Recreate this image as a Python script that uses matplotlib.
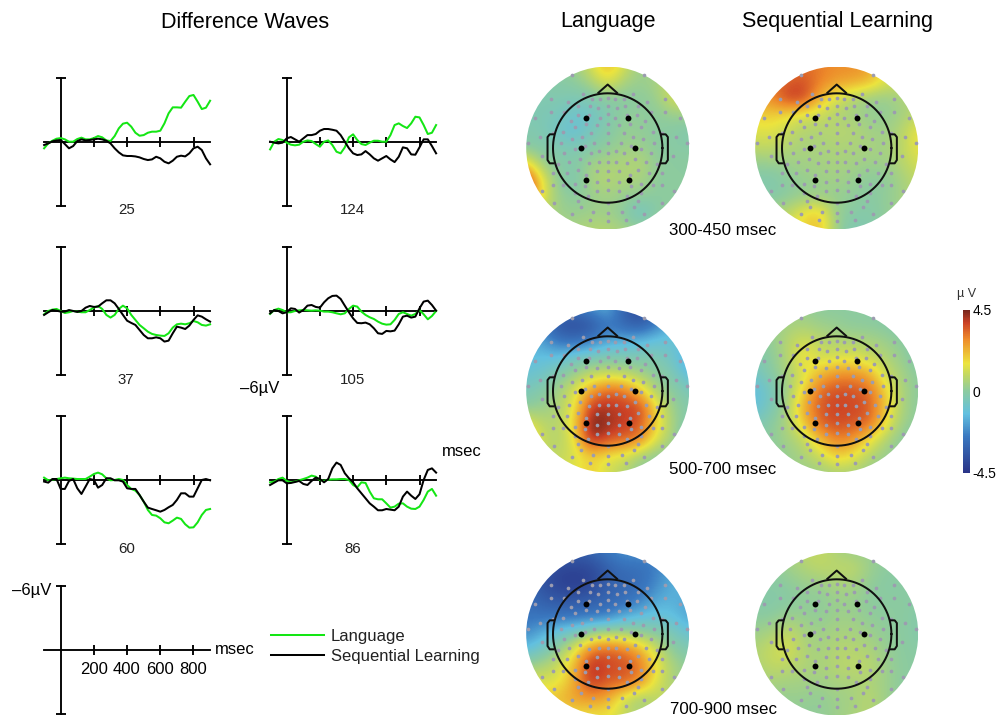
import numpy as np
import matplotlib
matplotlib.use("Agg")
import matplotlib.pyplot as plt
from matplotlib.colors import LinearSegmentedColormap, Normalize
from matplotlib.cm import ScalarMappable
from matplotlib.lines import Line2D
from matplotlib.patches import Circle

plt.rcParams['font.family'] = ['Liberation Sans', 'DejaVu Sans']
W, H = 997, 717
DPI = 100

times = list(range(-100, 901, 25))

lang_25 = [0.62,0.16,-0.09,-0.28,-0.34,-0.22,0,0,-0.25,-0.38,-0.22,-0.22,-0.34,-0.53,-0.41,-0.12,-0.06,-0.53,-1.25,-1.69,-1.78,-1.41,-0.84,-0.56,-0.62,-0.84,-0.94,-0.94,-1.03,-1.72,-2.66,-3.22,-3.22,-3.19,-3.75,-4.28,-4.38,-3.75,-3.06,-3.19,-3.84]
seq_25 = [0.31,0.16,-0.03,-0.12,-0.16,0.22,0.62,0.41,-0.06,-0.22,-0.12,-0.16,-0.22,-0.28,-0.22,-0.09,0.16,0.62,1.0,1.28,1.34,1.34,1.38,1.47,1.62,1.72,1.66,1.41,1.56,1.88,2.03,1.78,1.41,1.31,1.38,1.09,0.62,0.47,0.78,1.56,2.12]
lang_124 = [0.72,0,-0.25,-0.16,0.09,0.28,0.34,0.28,0,-0.12,-0.06,0.22,0.47,0,-0.12,0.31,0.94,1.09,0.53,-0.41,-0.69,-0.16,0.22,0.31,0.09,-0.09,-0.09,0,0,-0.62,-1.56,-1.72,-1.47,-1.28,-1.72,-2.34,-2.28,-1.56,-0.72,-0.84,-1.56]
seq_124 = [0,0.09,0.16,0.09,-0.31,-0.44,-0.22,0,-0.31,-0.62,-0.62,-0.72,-1.03,-1.19,-1.19,-1.12,-1.03,-0.62,0,0.62,1.09,1.25,1.19,0.88,1.19,1.56,1.78,1.56,1.34,1.66,1.91,1.41,0.53,0.62,1.19,1.22,0.53,-0.22,-0.22,0.41,1.09]
lang_37 = [0.28,-0.03,-0.16,-0.22,-0.03,0.16,0.09,-0.03,0.03,0.09,0.09,-0.12,-0.34,-0.5,-0.22,0.34,0.59,0.34,-0.22,-0.53,-0.28,0.34,0.81,1.28,1.59,1.91,2.12,2.22,2.28,2.31,2.06,1.53,1.22,1.16,1.22,1.12,0.91,1.03,1.28,1.34,1.22]
seq_37 = [0.34,0.09,-0.12,-0.06,0.03,0.03,-0.12,-0.03,0.06,-0.03,-0.34,-0.5,-0.41,-0.44,-0.75,-1.03,-1.03,-0.75,-0.22,0.34,0.88,1.09,1.28,1.75,2.22,2.53,2.53,2.44,2.53,2.84,2.75,2.06,1.44,1.53,1.66,1.34,0.81,0.38,0.5,0.75,0.97]
lang_105 = [0.25,-0.12,-0.25,-0.12,0.09,0.09,-0.03,-0.09,-0.12,-0.09,-0.06,-0.09,-0.06,0.03,0.03,0.09,0.19,0.28,0.19,-0.22,-0.53,-0.44,0.03,0.34,0.56,0.72,0.97,1.16,1.25,1.22,0.81,0.25,0.09,0.25,0.41,0.25,-0.12,0.28,0.75,0.44,-0.03]
seq_105 = [0.19,-0.12,-0.03,0.19,0.09,-0.28,-0.22,0.12,-0.12,-0.53,-0.59,-0.41,-0.34,-0.84,-1.22,-1.44,-1.47,-1.16,-0.53,0.09,0.66,1.09,1.12,1.06,1.22,1.59,2.06,2.12,1.84,1.88,1.81,1.22,0.5,0.41,0.59,0.5,-0.28,-0.91,-1.0,-0.59,-0.06]
lang_60 = [-0.25,0,-0.06,-0.12,-0.19,-0.25,-0.19,-0.16,-0.12,-0.12,-0.12,-0.34,-0.59,-0.72,-0.56,-0.19,0,-0.03,-0.12,-0.03,0.44,0.81,0.97,1.38,2.0,2.78,3.25,3.31,3.56,3.94,4.03,3.78,3.5,3.62,4.12,4.44,4.41,3.94,3.25,2.78,2.69]
seq_60 = [0.12,0.22,-0.12,-0.12,0.81,0.81,0.06,-0.12,0.75,1.28,0.59,-0.12,-0.03,0.69,0.44,-0.19,-0.19,0,0,0.12,0.75,0.81,0.81,1.38,2.0,2.56,2.69,2.81,2.94,2.78,2.53,2.31,1.84,1.22,1.22,1.53,1.53,0.75,-0.03,-0.12,0]
lang_86 = [0.19,0.12,-0.12,-0.25,0.06,0.19,0.12,0,-0.12,-0.25,-0.44,-0.34,-0.03,0.06,-0.06,-0.09,-0.09,-0.12,-0.12,-0.03,0.44,0.66,0.19,0.25,1.06,1.69,1.78,1.78,2.16,2.56,2.47,2.19,2.16,2.47,2.66,2.69,2.47,1.84,1.06,0.81,1.44]
seq_86 = [0.44,0.22,0,0,0.28,0.25,0.16,0.06,0.34,0.44,0.06,-0.25,-0.12,0.19,-0.12,-1.12,-1.66,-1.44,-0.66,-0.19,0.19,0.75,1.22,1.69,2.16,2.47,2.81,2.81,2.69,2.75,2.81,2.47,1.53,1.06,1.44,1.75,1.31,-0.03,-0.97,-1.12,-0.72]

channels = ['25', '124', '37', '105', '60', '86']
time_ticks = [200, 400, 600, 800]
volt_ticks = [-6, 6]
series_names = ['Language', 'Sequential Learning']

map_lang_300 = [
[0,0,0,0.3,1.2,2.4,1.2,0.2,0.2,0.3,0.3],
[-0.2,-0.2,-0.1,0,0.5,1.4,0.5,0.2,0.5,1.0,0.8],
[-0.3,-0.3,-0.3,-0.4,-0.3,0,-0.1,0,0.2,1.3,1.2],
[-0.3,-0.4,-0.5,-0.9,-0.8,-0.3,0.1,0.1,0,0.2,0.3],
[-0.3,-0.3,-0.8,-1.1,-0.5,-0.2,0.2,0.1,0,-0.1,-0.3],
[-0.1,-0.2,-0.3,-0.4,-0.2,0.1,0.3,0.3,0,-0.1,-0.1],
[2.0,0.3,-0.1,-0.2,0.4,0.5,0.6,0.7,0.1,0,0],
[4.5,1.5,0,-0.4,0.5,0.7,0.5,0.5,0,0,0],
[4.2,1.5,0.2,0,0.2,0.4,0.2,0.1,0,0,0],
[1,0.8,0.3,0.2,0.3,0.3,0,-0.9,-0.1,0.2,0.3],
[0.5,0.5,0.5,0.5,0.7,0.7,0.5,0.2,0.5,0.5,0.5]]
map_seq_300 = [
[3,3,3,3.2,3,2.8,2.8,2.6,1.5,1,0.6],
[3,3,3.4,3.6,3.0,2.6,2.5,2.2,1.3,1,0.6],
[2.6,2.8,3.9,3.9,2.2,1.2,0.6,0.2,0.2,0.5,0.8],
[1.8,1.9,1.6,1.2,1.0,0.6,0.4,0.2,0.1,0.4,0.8],
[1.3,1.4,1.0,0.6,0.6,0.7,0.7,0.4,0.3,0.7,1.6],
[0.8,0.9,0.6,0.5,0.5,0.6,0.5,0.5,0.4,0.8,1.5],
[0.2,0.2,0.3,0.4,0.4,0.5,0.4,0.3,0.3,0.7,1.2],
[-0.3,-0.3,0,0.2,0.3,0.4,0.2,0.0,0,0.4,0.9],
[0,-0.2,0,0.2,0.2,0.2,0.1,-0.1,0.1,0.4,0.8],
[0.5,0.5,0.8,1.6,2.0,0.2,-0.1,-0.2,0.1,0.4,0.6],
[0.5,0.8,1.2,1.8,2.2,0.2,-0.4,-0.3,0.1,0.3,0.5]]
map_lang_500 = [
[-1.6,-2,-2.6,-2.6,-2,-1.4,-3.2,-3.8,-3.2,-2,-1.5],
[-1.6,-2.4,-3.6,-3.8,-3.6,-2.6,-3,-3.4,-2.4,-1.4,-1.2],
[-1.4,-1.8,-2.6,-2.8,-2.4,-1.7,-1.5,-1.3,-1,-1,-1.2],
[-1.3,-1.2,-1.2,-0.6,-0.4,-0.2,-0.3,-0.3,-0.3,-0.8,-2],
[-1,-0.8,-0.2,0.3,0.8,1,0.8,0.4,0,-0.3,-1.4],
[-0.5,-0.2,0.4,1.2,2.6,3.4,3.2,2,0.4,0,-0.5],
[0,0.2,0.6,1.4,4,4,3.8,3.8,1.6,0.2,-0.2],
[1.5,0.8,0.6,1.8,4.6,4.2,3.8,3.6,1.8,0.4,-0.4],
[2.6,1,0.6,1.4,4.4,3.6,3.4,3,1.2,0.4,-0.8],
[1.2,0.8,0.9,1.2,1.8,1.4,1.2,0.4,0,0,-0.3],
[0.8,0.7,1,1.4,2,1.1,0.7,0,0,0,0]]
map_seq_500 = [
[0,0.2,0.3,0.2,0,0,0,0,-0.2,-0.5,-0.5],
[0,0.2,0.4,0.5,0.3,0.2,0,0,-0.1,-0.3,-0.4],
[-0.1,0.1,0.7,1.2,0.8,0.6,0.6,0.5,0.3,0,-0.3],
[-0.3,0,0.6,1.8,1,1.2,1.3,1,0.6,0.2,-0.3],
[-0.8,-0.1,0.5,1.2,2.2,2.8,2.8,2.4,1,0.4,0],
[-1.3,-0.6,0.3,1.8,3.3,3.6,3.6,3.3,1.8,0.5,0],
[-1.2,-0.5,0.5,2.4,3.5,3.8,3.7,3.5,2,0.5,0],
[-0.5,0,0.5,2,3.4,3.7,3.5,3.4,1.6,0.3,0],
[0,0,0.4,0.8,2.2,3,2.8,1.6,0.6,0,-0.2],
[0,0,0.2,0.5,1,2,1.5,0.7,0.2,0,-0.2],
[0,0.1,0.2,0.3,0.3,0.5,0.5,0.2,0,0,0]]
map_lang_700 = [
[-2.5,-3,-3.2,-3.2,-3,-2.5,-2,-2,-2.2,-2,-1.5],
[-3,-3.4,-3.9,-4,-3.9,-3.2,-2.8,-2.8,-2.4,-1.8,-1.5],
[-3,-3.6,-4.1,-4.2,-4,-3.2,-3,-2.8,-2.2,-1.5,-1.4],
[-2.8,-3.2,-3.4,-3.4,-3.2,-3,-2.8,-2.4,-1.6,-1.5,-1.8],
[-2.6,-2.6,-2.6,-2.6,-2.5,-2.4,-1.6,-1.2,-1,-1.2,-1.8],
[-2.2,-1.6,-0.8,-0.4,0.4,0.8,0.6,0.2,0,-0.4,-1.0],
[-1.2,-0.6,0.2,1.4,3.2,3.5,3.2,2.4,1.0,0,-0.3],
[0.3,0.6,1.0,2.2,4.2,3.7,3.6,3.2,1.6,0.5,0],
[1.5,1.2,1.4,2.4,4.0,3.4,3.4,2.8,1.2,0.5,0.2],
[2,2,2.2,2.6,2.6,2.4,1.0,0.2,0.8,0.8,0.6],
[1.5,1.5,1.5,1.5,1.5,1.5,1,0.6,1,1,0.8]]
map_seq_700 = [
[0,0,0.3,0.8,1.0,0.5,0.3,0.2,0,0,0],
[0,0,0.3,0.6,0.8,0.8,0.9,0.3,0,0,0],
[0,-0.1,0,0.2,0.3,0.5,0.5,0.1,-0.1,-0.1,-0.1],
[-0.2,-0.2,-0.1,0.1,0,0.3,0.2,0,0,0,-0.1],
[0,0,0.3,0.2,0.1,0.3,0.3,0.1,0,0,-0.2],
[0.3,0.5,1.0,0.5,0.3,0.5,0.5,0.3,0.1,0,-0.2],
[0.6,1.0,1.3,0.6,0.4,0.7,0.7,0.6,0.2,0,-0.1],
[0.5,0.9,0.8,0.6,0.5,0.7,0.8,0.8,0.3,0,0],
[0.3,0.5,0.4,0.4,0.3,0.5,0.5,0.6,0.3,0,-0.1],
[0.1,0.2,0.2,0.2,0.1,0.3,0.4,0.8,0.3,0,-0.1],
[0,0,0.1,0.1,0.1,0.3,0.5,0.7,0.2,0,0]]

sensor_mid_y = [0.92,0.77,0.62,0.43,0.27,0.09,-0.09,-0.26,-0.42,-0.59,-0.76,-1.0,-1.18,-1.34]
sensor_left = [(-0.66,1.34),(-1.04,0.89),(-1.33,0.54),(-1.24,0.2),(-1.45,0.1),(-1.2,-0.15),(-1.0,-0.67),(-1.21,-0.79),(-0.99,-1.01),(-0.66,-1.2),(-0.33,-1.32),(-0.26,-1.17),(-0.48,-1.07),
 (-0.46,0.98),(-0.29,0.89),(-0.14,0.9),(-0.72,0.85),(-0.55,0.76),(-0.32,0.76),(-0.17,0.73),(-1.04,0.65),(-0.8,0.65),(-0.54,0.6),(-0.35,0.6),(-0.14,0.55),(-0.68,0.5),(-0.2,0.42),(-0.4,0.43),(-0.6,0.38),(-0.82,0.3),(-1.0,0.28),(-0.3,0.28),(-0.47,0.2),(-0.65,0.17),(-0.85,0.1),(-0.25,0.1),(-0.42,0.03),(-0.6,-0.02),(-0.8,-0.1),(-0.15,-0.05),(-0.3,-0.1),(-0.5,-0.2),(-0.7,-0.25),(-0.9,-0.3),(-1.0,-0.45),(-0.15,-0.25),(-0.35,-0.28),(-0.55,-0.4),(-0.75,-0.45),(-0.2,-0.42),(-0.4,-0.5),(-0.2,-0.62),(-0.42,-0.7),(-0.6,-0.66),(-0.82,-0.67),(-0.2,-0.78),(-0.36,-0.87),(-0.6,-0.82),(-0.55,-0.97)]
marked_x = [-0.39,0.38,-0.49,0.49,-0.40,0.39]
marked_y = [0.54,0.54,0.0,0.0,-0.59,-0.59]

cbar_ticks = [4.5, 0, -4.5]
cbar_labels = ['4.5', '0', '-4.5']

cmap = LinearSegmentedColormap.from_list('erp', [
    (0.00, '#2a3488'), (0.22, '#3a78c0'), (0.36, '#62c0e0'), (0.50, '#8ccba0'),
    (0.60, '#c2d862'), (0.67, '#ece43e'), (0.82, '#ee8a2a'), (0.92, '#cc4226'), (1.00, '#72241c')])
norm = Normalize(-4.5, 4.5)

GREEN = '#14e614'
LW = 1.45
AX_LW = 1.35
fig = plt.figure(figsize=(W / DPI, H / DPI), dpi=DPI, facecolor='white')

def px_axes(x0, y0, x1, y1, **kw):
    return fig.add_axes([x0 / W, 1 - y1 / H, (x1 - x0) / W, (y1 - y0) / H], **kw)

def txt(x, y, s, size=12, ha='center', va='center', **kw):
    fig.text(x / W, 1 - y / H, s, fontsize=size, ha=ha, va=va, **kw)

def erp_axes(cx, cy):
    ax = px_axes(cx - 16.6, cy - 64, cx + 149.4, cy + 64)
    ax.set_xlim(-100, 900)
    ax.set_ylim(6, -6)
    ax.patch.set_alpha(0)
    for s in ('top', 'right'):
        ax.spines[s].set_visible(False)
    for s in ('left', 'bottom'):
        ax.spines[s].set_position('zero')
        ax.spines[s].set_linewidth(AX_LW)
    ax.set_xticks(time_ticks)
    ax.set_yticks(volt_ticks)
    ax.set_yticklabels([])
    ax.tick_params(axis='both', direction='inout', length=6.5, width=AX_LW)
    ax.set_xticklabels([])
    return ax

erp_positions = [(60.7, 141.7), (286.7, 141.7), (60.7, 311.3), (286.7, 311.3), (60.7, 480.3), (286.7, 480.3)]
all_traces = [(lang_25, seq_25), (lang_124, seq_124), (lang_37, seq_37),
              (lang_105, seq_105), (lang_60, seq_60), (lang_86, seq_86)]
for (cx, cy), (lang, seq), name in zip(erp_positions, all_traces, channels):
    ax = erp_axes(cx, cy)
    ax.plot(times, lang, color=GREEN, lw=LW, clip_on=False, zorder=3)
    ax.plot(times, seq, color='black', lw=LW, clip_on=False, zorder=4)
    txt(cx + 65.5, cy + 68.8, name, size=10.8, color='#222222')

# scale panel
ax = erp_axes(60.5, 650.3)
ax.set_xticklabels([str(t) for t in time_ticks], fontsize=12)
ax.tick_params(axis='x', pad=5)

handles = [Line2D([], [], color=GREEN, lw=LW), Line2D([], [], color='black', lw=LW)]
fig.legend(handles, series_names, loc='center left', bbox_to_anchor=(271 / W, 1 - 646.5 / H),
           frameon=False, fontsize=12, handlelength=3.15, handletextpad=0.45, labelspacing=0.33,
           borderpad=0, borderaxespad=0, labelcolor='#222222')

# texts
txt(245, 22, 'Difference Waves', size=15.5)
txt(608, 22, 'Language', size=15.5)
txt(837, 22, 'Sequential Learning', size=15.5)
txt(260, 388, '\u20136\u00b5V', size=12)
txt(462, 451, 'msec', size=12)
txt(31.5, 590, '\u20136\u00b5V', size=12)
txt(234.5, 649, 'msec', size=12)
txt(723, 230, '300-450 msec', size=12.2)
txt(723, 469, '500-700 msec', size=12.2)
txt(723, 710, '700-900 msec', size=12.2)

# head maps
R = 1.49
sx = np.array([0.0] * len(sensor_mid_y) + [p[0] for p in sensor_left] + [-p[0] for p in sensor_left])
sy = np.array(sensor_mid_y + [p[1] for p in sensor_left] + [p[1] for p in sensor_left])
theta = np.linspace(0, 2 * np.pi, 200)
OUT = '#101010'
OUT_LW = 1.45

def head_map(cx, cy, grid):
    half = 81.5
    ax = px_axes(cx - half, cy - half, cx + half, cy + half)
    ax.set_xlim(-R, R)
    ax.set_ylim(-R, R)
    ax.axis('off')
    im = ax.imshow(np.array(grid), cmap=cmap, norm=norm, extent=(-1.65, 1.65, -1.65, 1.65),
                   interpolation='bicubic', origin='upper', zorder=1)
    im.set_clip_path(Circle((0, 0), R, transform=ax.transData))
    ax.scatter(sx, sy, s=7, color='#9c9cb0', linewidths=0, zorder=2)
    ax.plot(np.cos(theta), np.sin(theta), color=OUT, lw=OUT_LW, zorder=3)
    ax.plot([-0.17, 0, 0.17], [1.01, 1.16, 1.01], color=OUT, lw=OUT_LW, zorder=3)
    for sgn in (-1, 1):
        ax.plot([sgn * 0.99, sgn * 1.06, sgn * 1.10, sgn * 1.10, sgn * 1.06, sgn * 0.99],
                [0.25, 0.25, 0.20, -0.22, -0.28, -0.28], color=OUT, lw=OUT_LW, zorder=3)
    ax.scatter(marked_x, marked_y, s=18, color='black', linewidths=0, zorder=4)

head_map(607.7, 148, map_lang_300)
head_map(836.7, 148, map_seq_300)
head_map(607.7, 391, map_lang_500)
head_map(836.7, 391, map_seq_500)
head_map(607.7, 634, map_lang_700)
head_map(836.7, 634, map_seq_700)

# colour bar
cax = px_axes(962.7, 309.5, 970, 472.7)
cb = fig.colorbar(ScalarMappable(norm=norm, cmap=cmap), cax=cax, ticks=cbar_ticks)
cb.ax.set_yticklabels(cbar_labels, fontsize=10)
cb.ax.tick_params(length=0, pad=2)
cb.outline.set_visible(False)
txt(966.5, 294, '\u00b5 V', size=9, color='#333333')

fig.savefig('out.png', dpi=DPI, facecolor='white')
